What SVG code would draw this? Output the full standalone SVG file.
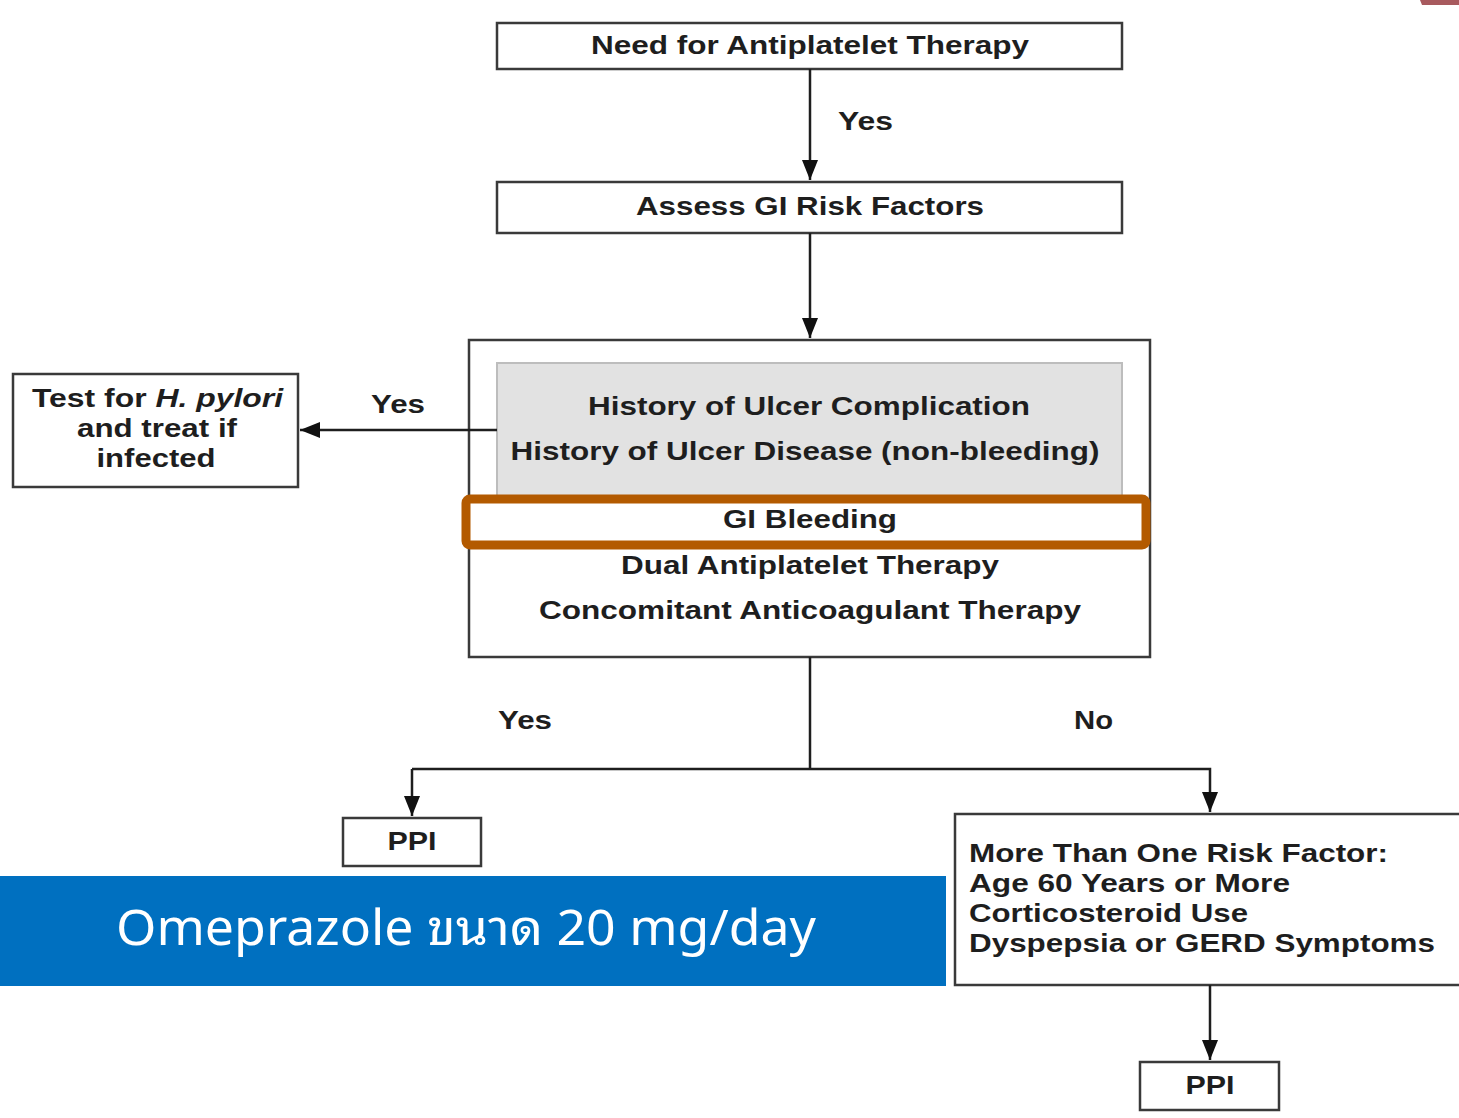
<svg xmlns="http://www.w3.org/2000/svg" width="1459" height="1118" viewBox="0 0 1459 1118">
<style>
.box{fill:#fff;stroke:#3a3a3a;stroke-width:2.5}
.t{font-family:"Liberation Sans",Arial,sans-serif;font-weight:bold;font-size:25px;fill:#1e1e1e}
.c{text-anchor:middle}
.ln{fill:none;stroke:#1e1e1e;stroke-width:2.5}
</style>
<defs>
<marker id="ahs" viewBox="0 0 20 16" refX="20" refY="8" markerWidth="20" markerHeight="16" orient="auto" markerUnits="userSpaceOnUse">
<path d="M0,0 L20,8 L0,16 Z" fill="#111"/>
</marker>
</defs>
<rect width="1459" height="1118" fill="#fff"/>
<path d="M1420,0 L1459,0 L1459,5 L1422,5 Z" fill="#a85a5e"/>

<g id="need">
<rect class="box" x="497" y="23" width="625" height="46"/>
<text class="t c" x="810" y="54" textLength="438" lengthAdjust="spacingAndGlyphs">Need for Antiplatelet Therapy</text>
</g>

<g id="assess">
<rect class="box" x="497" y="182" width="625" height="51"/>
<text class="t c" x="810" y="215" textLength="348" lengthAdjust="spacingAndGlyphs">Assess GI Risk Factors</text>
</g>

<g id="risk">
<rect class="box" x="469" y="340" width="681" height="317"/>
<rect x="497" y="363" width="625" height="134" fill="#e2e2e2" stroke="#bdbdbd" stroke-width="2"/>
<text class="t c" x="809" y="415" textLength="442" lengthAdjust="spacingAndGlyphs">History of Ulcer Complication</text>
<text class="t c" x="805" y="460" textLength="589" lengthAdjust="spacingAndGlyphs">History of Ulcer Disease (non-bleeding)</text>
<rect x="466" y="499" width="680" height="46" rx="4" fill="#fff" stroke="#b35a00" stroke-width="9"/>
<text class="t c" x="810" y="528" textLength="174" lengthAdjust="spacingAndGlyphs">GI Bleeding</text>
<text class="t c" x="810" y="574" textLength="378" lengthAdjust="spacingAndGlyphs">Dual Antiplatelet Therapy</text>
<text class="t c" x="810" y="619" textLength="542" lengthAdjust="spacingAndGlyphs">Concomitant Anticoagulant Therapy</text>
</g>

<g id="hpylori">
<rect class="box" x="13" y="374" width="285" height="113"/>
<text class="t" x="32" y="407" textLength="251" lengthAdjust="spacingAndGlyphs">Test for <tspan font-style="italic">H. pylori</tspan></text>
<text class="t c" x="157" y="437" textLength="160" lengthAdjust="spacingAndGlyphs">and treat if</text>
<text class="t c" x="156" y="467" textLength="119" lengthAdjust="spacingAndGlyphs">infected</text>
</g>

<g id="ppi1">
<rect class="box" x="343" y="818" width="138" height="48"/>
<text class="t c" x="412" y="850" textLength="49" lengthAdjust="spacingAndGlyphs">PPI</text>
</g>

<g id="morerisk">
<rect class="box" x="955" y="814" width="510" height="171"/>
<text class="t" x="969" y="862" textLength="419" lengthAdjust="spacingAndGlyphs">More Than One Risk Factor:</text>
<text class="t" x="969" y="892" textLength="321" lengthAdjust="spacingAndGlyphs">Age 60 Years or More</text>
<text class="t" x="969" y="922" textLength="279" lengthAdjust="spacingAndGlyphs">Corticosteroid Use</text>
<text class="t" x="969" y="952" textLength="466" lengthAdjust="spacingAndGlyphs">Dyspepsia or GERD Symptoms</text>
</g>

<g id="ppi2">
<rect class="box" x="1140" y="1062" width="139" height="48"/>
<text class="t c" x="1210" y="1094" textLength="49" lengthAdjust="spacingAndGlyphs">PPI</text>
</g>

<g id="banner">
<rect x="0" y="876" width="946" height="110" fill="#0070c0"/>
<text x="116" y="945" font-family="'Noto Sans','Noto Sans Thai Looped','Loma','Garuda','Noto Sans Thai','DejaVu Sans',sans-serif" font-size="49" fill="#fff" textLength="700" lengthAdjust="spacingAndGlyphs">Omeprazole ขนาด 20 mg/day</text>
</g>

<g id="connectors">
<line class="ln" x1="810" y1="69" x2="810" y2="180" marker-end="url(#ahs)"/>
<line class="ln" x1="810" y1="233" x2="810" y2="338" marker-end="url(#ahs)"/>
<line class="ln" x1="497" y1="430" x2="300" y2="430" marker-end="url(#ahs)"/>
<polyline class="ln" points="810,657 810,769"/>
<polyline class="ln" points="412,769 1210,769 1210,812" marker-end="url(#ahs)"/>
<line class="ln" x1="412" y1="769" x2="412" y2="816" marker-end="url(#ahs)"/>
<line class="ln" x1="1210" y1="985" x2="1210" y2="1060" marker-end="url(#ahs)"/>
<text class="t" x="838" y="130" textLength="55" lengthAdjust="spacingAndGlyphs">Yes</text>
<text class="t" x="371" y="413" textLength="54" lengthAdjust="spacingAndGlyphs">Yes</text>
<text class="t" x="498" y="729" textLength="54" lengthAdjust="spacingAndGlyphs">Yes</text>
<text class="t" x="1074" y="729" textLength="39" lengthAdjust="spacingAndGlyphs">No</text>
</g>
</svg>
